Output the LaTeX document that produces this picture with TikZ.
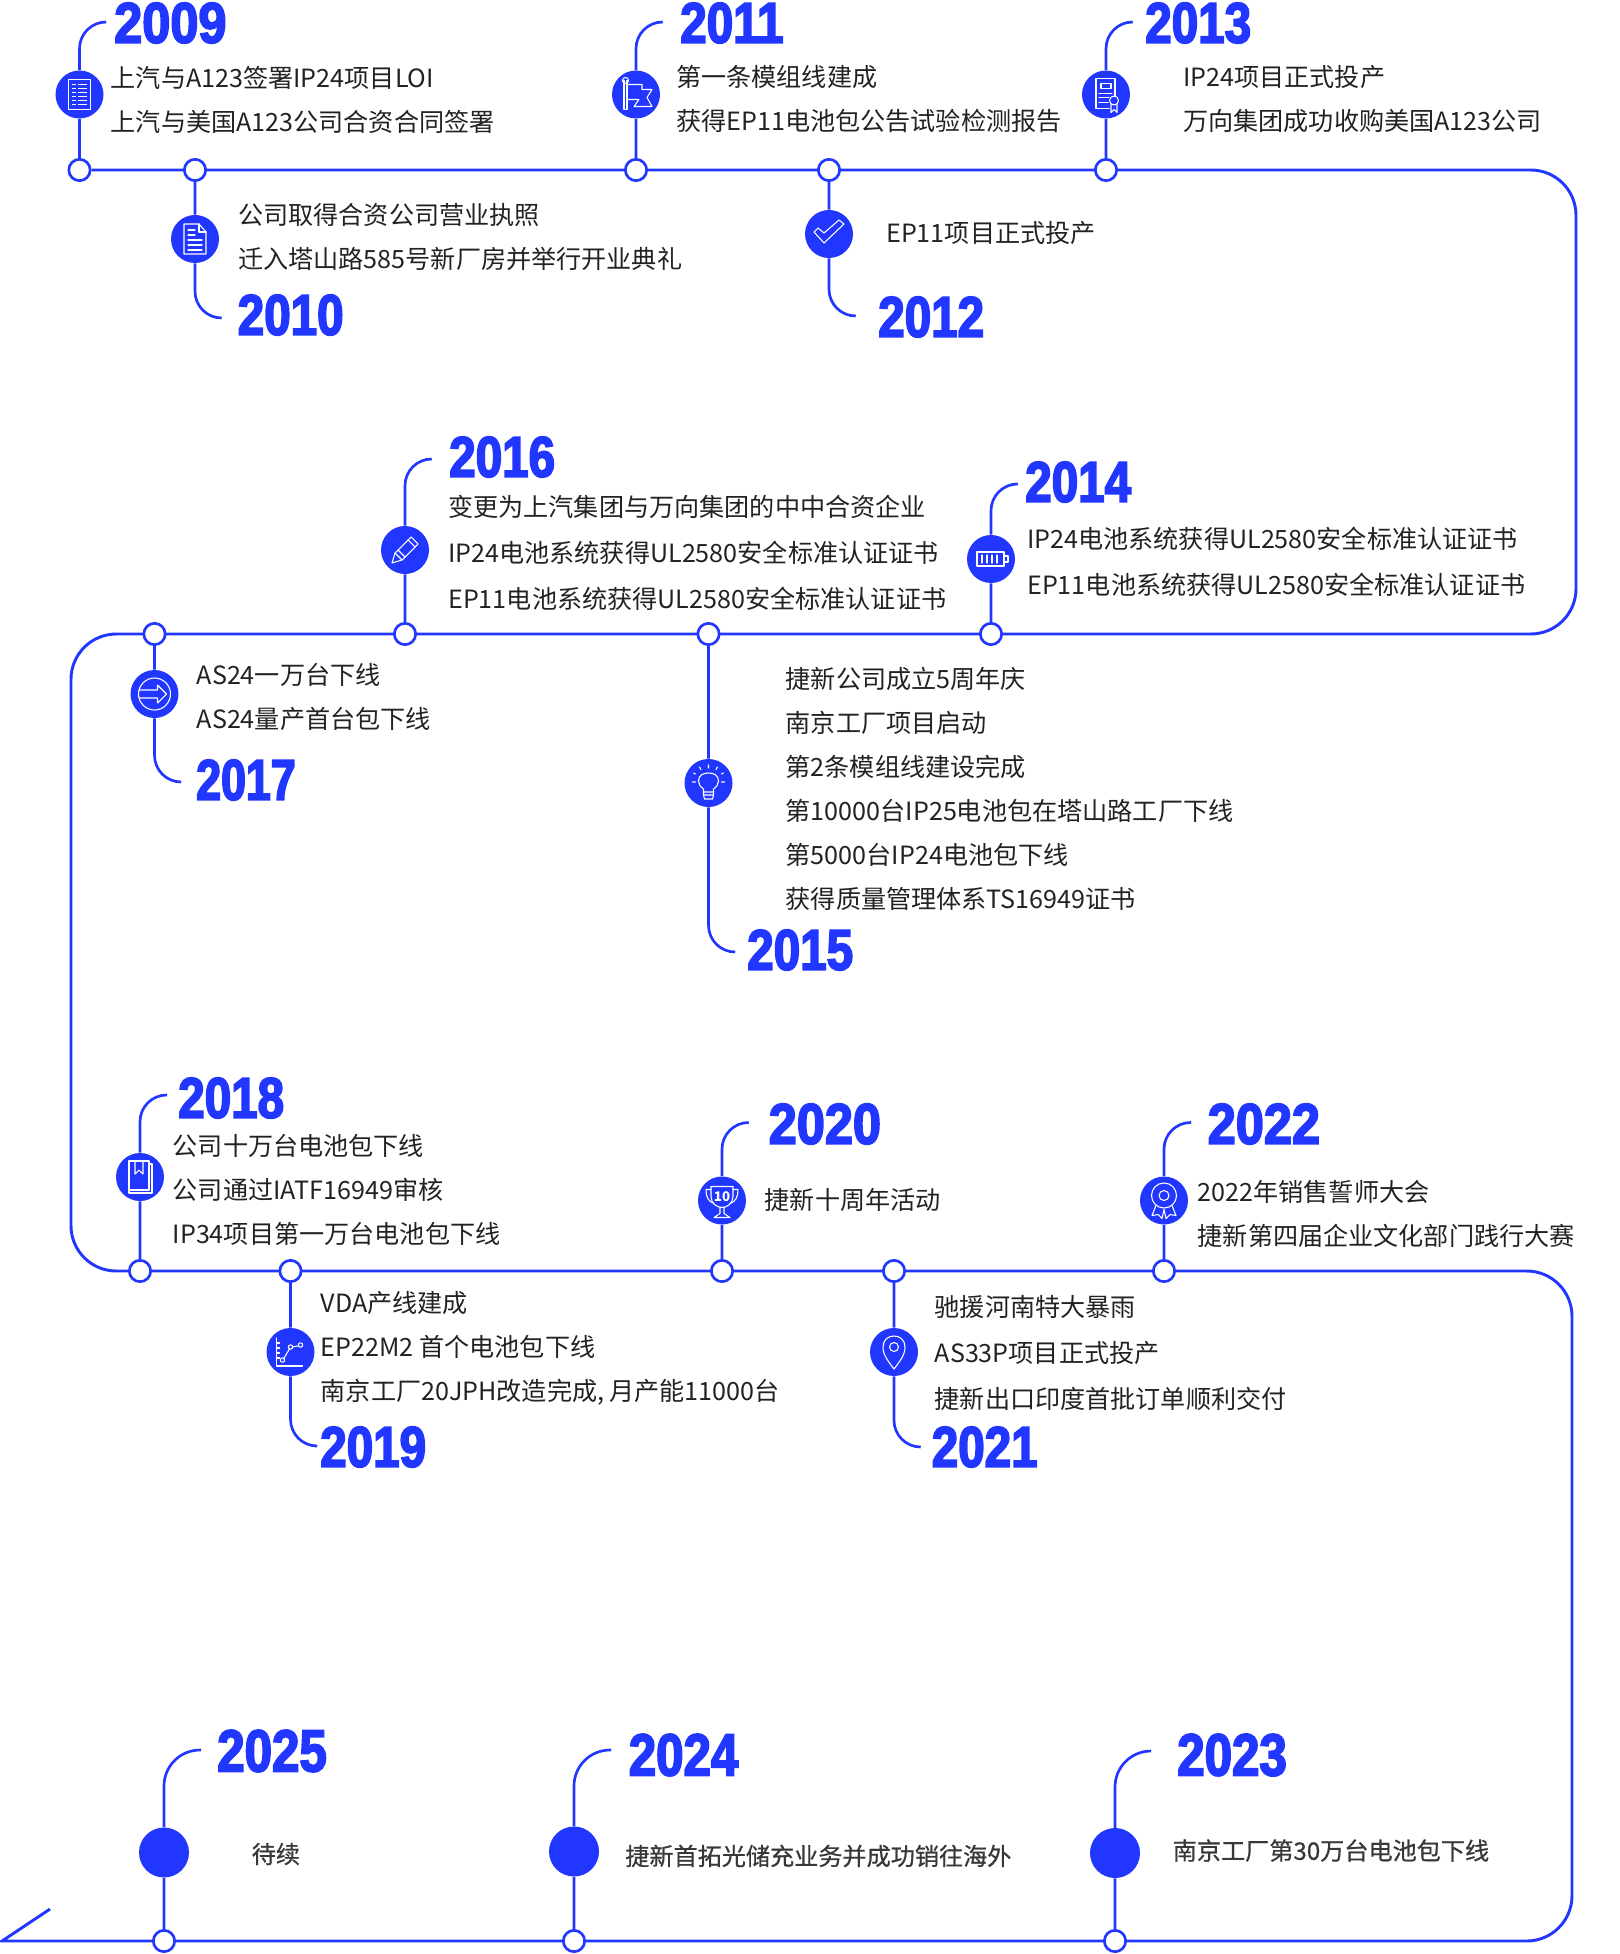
\documentclass[tikz,border=0pt]{standalone}
\usepackage{fontspec}
\setmainfont{Noto Sans CJK SC}
\newfontfamily\midfont[FakeBold=0.7]{Noto Sans CJK SC}
\newfontfamily\yearfont[FakeStretch=0.83,BoldFeatures={FakeStretch=0.83,FakeBold=3}]{Liberation Sans}
\newfontfamily\yearwidefont[FakeStretch=0.88,BoldFeatures={FakeStretch=0.88,FakeBold=3}]{Liberation Sans}
\newfontfamily\yearslimfont[FakeStretch=0.78,BoldFeatures={FakeStretch=0.78,FakeBold=3}]{Liberation Sans}
\usetikzlibrary{backgrounds}
\definecolor{lineblue}{RGB}{33,54,255}
\definecolor{inkgrey}{RGB}{34,34,34}
\tikzset{
  mainline/.style={draw=lineblue,line width=2.2pt},
  stem/.style={draw=lineblue,line width=2pt,rounded corners=20pt},
  junct/.style={circle,draw=lineblue,fill=white,line width=2pt,minimum size=16pt,inner sep=0pt},
  badge/.style={circle,fill=lineblue,minimum size=36pt,inner sep=0pt},
  plainbadge/.style={circle,fill=lineblue,minimum size=37.5pt,inner sep=0pt},
  year/.style={anchor=west,inner sep=0pt,text=lineblue,font=\yearfont\bfseries\fontsize{43}{43}\selectfont},
  yearwide/.style={year,font=\yearwidefont\bfseries\fontsize{43}{43}\selectfont},
  yearslim/.style={year,font=\yearslimfont\bfseries\fontsize{43}{43}\selectfont},
  yearbig/.style={year,font=\yearfont\bfseries\fontsize{44.5}{44.5}\selectfont},
  blurb/.style={anchor=west,inner sep=0pt,align=left,text=inkgrey,font=\fontsize{18.85}{33}\selectfont},
  blurbwide/.style={blurb,font=\fontsize{18.85}{34.5}\selectfont},
  blurbmid/.style={anchor=west,inner sep=0pt,text=inkgrey!90,font=\midfont\fontsize{18.1}{24}\selectfont},
  glyph/.style={yscale=-1,draw=white,line width=0.8pt,line join=round,line cap=round},
  glyphlist/.pic={
    \draw[glyph] (-11,-15) rectangle (11,15);
    \draw[glyph] (-7,-10) -- (-4,-10) (-1,-10) -- (7,-10) (-7,-6) -- (-4,-6) (-1,-6) -- (7,-6) (-7,-2) -- (-4,-2) (-1,-2) -- (7,-2) (-7,2) -- (-4,2) (-1,2) -- (7,2) (-7,6) -- (-4,6) (-1,6) -- (7,6) (-7,10) -- (-4,10) (-1,10) -- (7,10);
  },
  glyphdoc/.pic={
    \draw[glyph] (-11,-15) -- (4,-15) -- (11,-7) -- (11,15) -- (-11,15) -- cycle;
    \draw[glyph] (4,-15) -- (4,-7) -- (11,-7);
    \draw[glyph] (-7,-9) -- (0,-9) (-7,-4) -- (0,-4) (-7,1) -- (7,1) (-7,6) -- (7,6) (-7,11) -- (7,11);
  },
  glyphflag/.pic={
    \draw[glyph] (-12,-14) -- (-12,15) -- (-9,15) -- (-9,-14);
    \draw[glyph] (-10.5,-14) circle [radius=3];
    \draw[glyph] (-9,-10) -- (6,-10) -- (6,-5) -- (16,-5) -- (11,3) -- (16,12) -- (-2,12) -- (3,5) -- (-9,5);
  },
  glyphcheck/.pic={
    \draw[glyph] (-15,-2) -- (-11,-6) -- (-5,-1) -- (10,-14) -- (15,-10) -- (-5,9) -- cycle;
  },
  glyphcert/.pic={
    \draw[glyph] (3,14) -- (-10,14) -- (-10,-16) -- (9,-16) -- (9,2);
    \draw[glyph] (-5,-11) rectangle (5,-6);
    \draw[glyph] (-7,-1) -- (6,-1) (-7,3) -- (3,3) (-7,8) -- (2,8);
    \draw[glyph] (8,6) circle [radius=4.5];
    \draw[glyph] (5,10) -- (5,18) -- (8,15) -- (11,18) -- (11,10);
  },
  glyphpen/.pic={
    \draw[glyph] (-13,13) -- (-10,3) -- (6,-13) -- (13,-6) -- (-3,10) -- cycle;
    \draw[glyph] (-10,3) -- (-3,10) (3,-10) -- (10,-3) (-7,0) -- (0,7);
  },
  glyphbattery/.pic={
    \draw[glyph] (-14,-7) rectangle (13,7);
    \draw[glyph] (13,-3) rectangle (17,3);
    \draw[glyph] (-9,-4) -- (-9,4) (-4,-4) -- (-4,4) (1,-4) -- (1,4) (6,-4) -- (6,4);
  },
  glypharrow/.pic={
    \draw[glyph] (0,0) circle [radius=16];
    \draw[glyph] (-15,-4) -- (3,-4) -- (3,-9) -- (12,0) -- (3,9) -- (3,4) -- (-15,4);
  },
  glyphbulb/.pic={
    \draw[glyph] (-5,12) -- (-5,6) .. controls (-8,4) and (-10,1) .. (-10,-2) .. controls (-10,-8) and (-5,-10) .. (0,-10) .. controls (5,-10) and (10,-8) .. (10,-2) .. controls (10,1) and (8,4) .. (5,6) -- (5,12) -- cycle;
    \draw[glyph] (-5,9) -- (5,9) (-4,16) -- (4,16) -- (5,12) (-4,16) -- (-5,12);
    \draw[glyph] (0,-18) -- (0,-15) (-9,-16) -- (-7.5,-13.5) (9,-16) -- (7.5,-13.5) (-15,-10) -- (-13,-9) (15,-10) -- (13,-9) (-16,-1) -- (-13,-1) (16,-1) -- (13,-1);
  },
  glyphbook/.pic={
    \draw[glyph] (-11,-16) rectangle (9,13);
    \draw[glyph] (9,-13) -- (12,-13) -- (12,16) -- (-11,16) -- (-11,13);
    \draw[glyph] (-5,-16) -- (-5,-3) -- (-1,-7) -- (3,-3) -- (3,-16);
  },
  glyphchart/.pic={
    \draw[glyph] (-14,-14) -- (-14,14) -- (12,14);
    \draw[glyph] (-14,-9) -- (-11,-9) (-14,-4) -- (-11,-4) (-14,1) -- (-11,1) (-14,6) -- (-11,6);
    \draw[glyph] (-7,7) -- (-1,-3) (2,-5) -- (7,-6);
    \draw[glyph] (-8,8) circle [radius=2.2] (0,-5) circle [radius=2.2] (10,-7) circle [radius=2.2];
  },
  glyphcup/.pic={
    \draw[glyph] (-11,-14) -- (11,-14) -- (11,-4) .. controls (11,3) and (5,7) .. (0,7) .. controls (-5,7) and (-11,3) .. (-11,-4) -- cycle;
    \draw[glyph] (-11,-11) -- (-16,-11) .. controls (-16,-4) and (-14,1) .. (-8,3) (11,-11) -- (16,-11) .. controls (16,-4) and (14,1) .. (8,3);
    \draw[glyph] (-2,7) -- (-2,13) -- (-8,17) -- (8,17) -- (2,13) -- (2,7);
  },
  glyphpin/.pic={
    \draw[glyph] (0,17) .. controls (-6,9) and (-11,3) .. (-11,-5) .. controls (-11,-12) and (-6,-16) .. (0,-16) .. controls (6,-16) and (11,-12) .. (11,-5) .. controls (11,3) and (6,9) .. (0,17) -- cycle;
    \draw[glyph] (0,-5) circle [radius=4.5];
  },
  glyphmedal/.pic={
    \draw[glyph] (0,-5) circle [radius=12.5];
    \draw[glyph] (0,-5) circle [radius=5];
    \draw[glyph] (-8,5) -- (-12,15) -- (-6,14) -- (-2,18) -- (0,9) -- (2,18) -- (6,14) -- (12,15) -- (8,5);
  }
}
\begin{document}
\begin{tikzpicture}[x=0.75pt,y=0.75pt,yscale=-1,xscale=1]
\useasboundingbox (0,0) rectangle (1619,1954);

% Junctions on the line
\node (j2009) [junct] at (79.5,170) {};
\node (j2010) [junct] at (195,170) {};
\node (j2011) [junct] at (636,170) {};
\node (j2012) [junct] at (829,170) {};
\node (j2013) [junct] at (1106,170) {};
\node (j2014) [junct] at (991,634) {};
\node (j2015) [junct] at (708.5,634) {};
\node (j2016) [junct] at (405,634) {};
\node (j2017) [junct] at (154.5,634) {};
\node (j2018) [junct] at (140,1271) {};
\node (j2019) [junct] at (290.5,1271) {};
\node (j2020) [junct] at (722,1271) {};
\node (j2021) [junct] at (894,1271) {};
\node (j2022) [junct] at (1164,1271) {};
\node (j2023) [junct] at (1115,1941) {};
\node (j2024) [junct] at (574,1941) {};
\node (j2025) [junct] at (164,1941) {};

% Badges
\node (i2009) [badge] at (79.5,94.5) {};
\node (i2010) [badge] at (195,239) {};
\node (i2011) [badge] at (636,94.5) {};
\node (i2012) [badge] at (829,234) {};
\node (i2013) [badge] at (1106,94.5) {};
\node (i2014) [badge] at (991,559) {};
\node (i2015) [badge] at (708.5,783) {};
\node (i2016) [badge] at (405,550) {};
\node (i2017) [badge] at (154.5,694) {};
\node (i2018) [badge] at (140,1177) {};
\node (i2019) [badge] at (290.5,1352) {};
\node (i2020) [badge] at (722,1200.5) {};
\node (i2021) [badge] at (894,1352) {};
\node (i2022) [badge] at (1164,1200.5) {};
\node (i2023) [plainbadge] at (1115,1853) {};
\node (i2024) [plainbadge] at (574,1851.5) {};
\node (i2025) [plainbadge] at (164,1852.5) {};

% Badge glyphs
\pic at (i2009) {glyphlist};
\pic at (i2010) {glyphdoc};
\pic at (i2011) {glyphflag};
\pic at (i2012) {glyphcheck};
\pic at (i2013) {glyphcert};
\pic at (i2014) {glyphbattery};
\pic at (i2015) {glyphbulb};
\pic at (i2016) {glyphpen};
\pic at (i2017) {glypharrow};
\pic at (i2018) {glyphbook};
\pic at (i2019) {glyphchart};
\pic at (i2020) {glyphcup};
\node (cupten) [inner sep=0pt,text=white,font=\bfseries\fontsize{10}{10}\selectfont] at (722,1197) {10};
\pic at (i2021) {glyphpin};
\pic at (i2022) {glyphmedal};

% Elbow ends and corners
\coordinate (e2009) at (106,22);
\coordinate (e2010) at (221,318);
\coordinate (e2011) at (661.5,22);
\coordinate (e2012) at (855.5,316);
\coordinate (e2013) at (1132,22);
\coordinate (e2014) at (1015,484);
\coordinate (e2015) at (734,952);
\coordinate (e2016) at (431,459);
\coordinate (e2017) at (180,782);
\coordinate (e2018) at (167,1095);
\coordinate (e2019) at (315,1446);
\coordinate (e2020) at (748.5,1122.5);
\coordinate (e2021) at (920,1447);
\coordinate (e2022) at (1191,1122.5);
\coordinate (e2023) at (1150,1751);
\coordinate (e2024) at (611,1750);
\coordinate (e2025) at (201,1750);
\coordinate (cornerA) at (1576,170);
\coordinate (cornerB) at (1576,634);
\coordinate (cornerC) at (71,634);
\coordinate (cornerD) at (71,1271);
\coordinate (cornerE) at (1572,1271);
\coordinate (cornerF) at (1572,1941);
\coordinate (tailA) at (2,1941);
\coordinate (tailB) at (50,1909);

\begin{scope}[on background layer]
% Main line
\draw [mainline,rounded corners=34pt] (j2009) -- (cornerA) -- (cornerB) -- (cornerC) -- (cornerD) -- (cornerE) -- (cornerF) [sharp corners] -- (tailA) -- (tailB);
% Stems
\draw [stem] (j2009) -- (i2009) |- (e2009);
\draw [stem] (j2010) -- (i2010) |- (e2010);
\draw [stem] (j2011) -- (i2011) |- (e2011);
\draw [stem] (j2012) -- (i2012) |- (e2012);
\draw [stem] (j2013) -- (i2013) |- (e2013);
\draw [stem] (j2014) -- (i2014) |- (e2014);
\draw [stem] (j2015) -- (i2015) |- (e2015);
\draw [stem] (j2016) -- (i2016) |- (e2016);
\draw [stem] (j2017) -- (i2017) |- (e2017);
\draw [stem] (j2018) -- (i2018) |- (e2018);
\draw [stem] (j2019) -- (i2019) |- (e2019);
\draw [stem] (j2020) -- (i2020) |- (e2020);
\draw [stem] (j2021) -- (i2021) |- (e2021);
\draw [stem] (j2022) -- (i2022) |- (e2022);
\draw [stem,rounded corners=27pt] (j2023) -- (i2023) |- (e2023);
\draw [stem,rounded corners=27pt] (j2024) -- (i2024) |- (e2024);
\draw [stem,rounded corners=27pt] (j2025) -- (i2025) |- (e2025);
\end{scope}

% Year labels
\node (y2009) [yearwide] at (114,23) {2009};
\node (y2010) [year] at (237.5,315) {2010};
\node (y2011) [year] at (680,23) {2011};
\node (y2012) [year] at (878,317) {2012};
\node (y2013) [year] at (1145,23) {2013};
\node (y2014) [year] at (1025,482) {2014};
\node (y2015) [year] at (747,950) {2015};
\node (y2016) [year] at (449,457) {2016};
\node (y2017) [yearslim] at (196,780) {2017};
\node (y2018) [year] at (178,1098) {2018};
\node (y2019) [year] at (320,1447) {2019};
\node (y2020) [yearwide] at (768.5,1124) {2020};
\node (y2021) [year] at (931.5,1447) {2021};
\node (y2022) [yearwide] at (1207.5,1124) {2022};
\node (y2023) [yearbig] at (1177,1755) {2023};
\node (y2024) [yearbig] at (628.5,1755) {2024};
\node (y2025) [yearbig] at (217,1751) {2025};

% Text Node
\node (t2009) [blurb] at (110.5,99.5) {上汽与A123签署IP24项目LOI\\上汽与美国A123公司合资合同签署};
\node (t2010) [blurb] at (238,237.5) {公司取得合资公司营业执照\\迁入塔山路585号新厂房并举行开业典礼};
\node (t2011) [blurb] at (676,99.5) {第一条模组线建成\\获得EP11电池包公告试验检测报告};
\node (t2012) [blurb] at (886,233) {EP11项目正式投产};
\node (t2013) [blurb] at (1183,99.5) {IP24项目正式投产\\万向集团成功收购美国A123公司};
\node (t2014) [blurbwide] at (1027,562) {IP24电池系统获得UL2580安全标准认证证书\\EP11电池系统获得UL2580安全标准认证证书};
\node (t2015) [blurb] at (785.5,789) {捷新公司成立5周年庆\\南京工厂项目启动\\第2条模组线建设完成\\第10000台IP25电池包在塔山路工厂下线\\第5000台IP24电池包下线\\获得质量管理体系TS16949证书};
\node (t2016) [blurbwide] at (448,553) {变更为上汽集团与万向集团的中中合资企业\\IP24电池系统获得UL2580安全标准认证证书\\EP11电池系统获得UL2580安全标准认证证书};
\node (t2017) [blurb] at (196.5,697) {AS24一万台下线\\AS24量产首台包下线};
\node (t2018) [blurb] at (172.5,1190) {公司十万台电池包下线\\公司通过IATF16949审核\\IP34项目第一万台电池包下线};
\node (t2019) [blurb] at (320.5,1348) {VDA产线建成\\EP22M2 首个电池包下线\\南京工厂20JPH改造完成,\kern3.5pt月产能11000台};
\node (t2020) [blurb] at (764.5,1200) {捷新十周年活动};
\node (t2021) [blurbwide] at (934.5,1353) {驰援河南特大暴雨\\AS33P项目正式投产\\捷新出口印度首批订单顺利交付};
\node (t2022) [blurb] at (1197.5,1214) {2022年销售誓师大会\\捷新第四届企业文化部门践行大赛};
\node (t2023) [blurbmid] at (1172.5,1850.5) {南京工厂第30万台电池包下线};
\node (t2024) [blurbmid] at (625,1856) {捷新首拓光储充业务并成功销往海外};
\node (t2025) [blurbmid] at (251.5,1854) {待续};

\end{tikzpicture}
\end{document}
